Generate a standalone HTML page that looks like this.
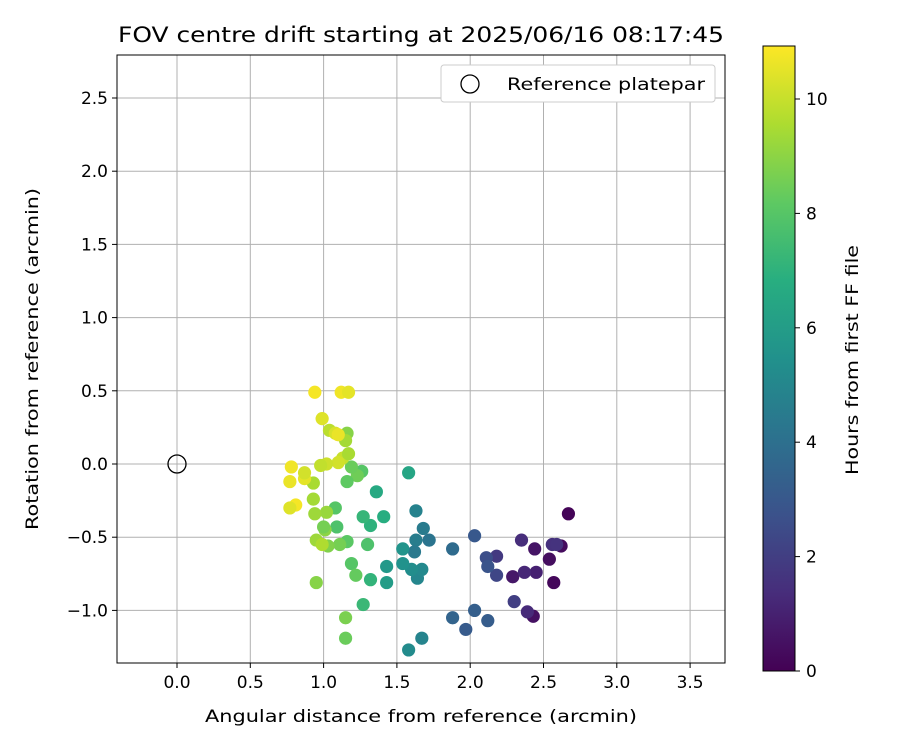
<!DOCTYPE html>
<html><head><meta charset="utf-8"><style>
body{margin:0;background:#fff;}
svg text{font-family:"DejaVu Sans","Liberation Sans",sans-serif;fill:#000;}
</style></head><body>
<svg id="chart" width="900" height="750" viewBox="0 0 900 750" xmlns="http://www.w3.org/2000/svg">
<defs><linearGradient id="vir" x1="0" y1="1" x2="0" y2="0">
<stop offset="0" stop-color="#440154"/><stop offset="0.125" stop-color="#472d7b"/><stop offset="0.25" stop-color="#3b528b"/><stop offset="0.375" stop-color="#2c728e"/><stop offset="0.5" stop-color="#21918c"/><stop offset="0.625" stop-color="#28ae80"/><stop offset="0.75" stop-color="#5ec962"/><stop offset="0.875" stop-color="#addc30"/><stop offset="1" stop-color="#fde725"/></linearGradient></defs>
<text x="421" y="42" font-size="21" text-anchor="middle" textLength="606" lengthAdjust="spacingAndGlyphs">FOV centre drift starting at 2025/06/16 08:17:45</text>
<g id="grid"></g><g id="pts"></g>
<rect x="117" y="55" width="608" height="608" fill="none" stroke="#000" stroke-width="1"/>
<g id="xt"></g><g id="yt"></g>
<text x="421" y="722" font-size="17" text-anchor="middle" textLength="432" lengthAdjust="spacingAndGlyphs">Angular distance from reference (arcmin)</text>
<text transform="translate(38,359) rotate(-90)" font-size="17" text-anchor="middle" textLength="342" lengthAdjust="spacingAndGlyphs">Rotation from reference (arcmin)</text>
<g>
<rect x="441" y="65" width="274" height="37" rx="3" fill="#fff" stroke="#ccc"/>
<circle cx="470" cy="84" r="9" fill="none" stroke="#000" stroke-width="1.3"/>
<text x="507" y="90" font-size="17" textLength="198" lengthAdjust="spacingAndGlyphs">Reference platepar</text></g>
<rect x="763" y="46" width="32" height="625" fill="url(#vir)" stroke="#000"/>
<g id="ct"></g>
<text transform="translate(858,360) rotate(-90)" font-size="17" text-anchor="middle" textLength="230" lengthAdjust="spacingAndGlyphs">Hours from first FF file</text>
</svg>
<script>
const xs=[2.67,2.62,2.57,2.54,2.43,2.44,2.29,2.45,2.37,2.39,2.35,2.56,2.59,2.18,2.30,2.18,2.11,2.12,2.03,1.97,2.12,2.03,1.88,1.88,1.72,1.68,1.63,1.62,1.63,1.67,1.58,1.64,1.67,1.60,1.54,1.54,1.43,1.43,1.58,1.36,1.41,1.32,1.27,1.32,1.27,1.30,1.19,1.22,1.15,1.15,1.26,1.23,1.19,1.16,1.16,1.09,1.08,1.11,1.03,1.01,1.00,1.02,0.95,0.95,0.99,1.16,1.15,1.13,1.17,1.10,1.02,0.98,1.04,1.08,1.10,0.99,0.94,1.12,1.17,0.93,0.93,0.94,0.87,0.87,0.78,0.77,0.81,0.77];
const ys=[-0.34,-0.56,-0.81,-0.65,-1.04,-0.58,-0.77,-0.74,-0.74,-1.01,-0.52,-0.55,-0.55,-0.63,-0.94,-0.76,-0.64,-0.70,-0.49,-1.13,-1.07,-1.00,-1.05,-0.58,-0.52,-0.44,-0.52,-0.60,-0.32,-1.19,-1.27,-0.78,-0.72,-0.72,-0.68,-0.58,-0.70,-0.81,-0.06,-0.19,-0.36,-0.42,-0.36,-0.79,-0.96,-0.55,-0.68,-0.76,-1.19,-1.05,-0.05,-0.08,-0.02,-0.12,-0.53,-0.43,-0.30,-0.55,-0.56,-0.45,-0.43,-0.33,-0.52,-0.81,-0.55,0.21,0.16,0.04,0.07,0.01,0.0,-0.01,0.23,0.21,0.20,0.31,0.49,0.49,0.49,-0.13,-0.24,-0.34,-0.10,-0.06,-0.02,-0.12,-0.28,-0.30];
const hours=[0.1,0.3,0.2,0.4,0.5,0.6,0.7,1.0,1.2,1.3,1.4,1.5,1.6,1.8,2.0,2.3,2.6,2.8,3.0,3.1,3.2,3.3,3.5,3.8,4.2,4.5,4.6,4.4,4.8,4.9,5.2,5.0,5.1,5.3,5.5,5.6,5.8,6.0,6.4,6.6,6.8,7.0,7.2,7.1,7.3,7.8,8.0,8.3,8.4,8.7,8.0,8.5,8.4,8.2,8.1,7.8,8.0,8.6,8.8,9.0,8.6,9.2,9.3,8.9,9.6,8.9,9.4,10.0,9.5,10.2,10.1,9.9,9.8,10.3,10.6,10.4,10.8,10.7,10.5,9.5,9.4,9.3,10.5,10.2,10.7,10.6,10.8,10.4];
const xTicks=["0.0","0.5","1.0","1.5","2.0","2.5","3.0","3.5"];
const yTicks=["-1.0","-0.5","0.0","0.5","1.0","1.5","2.0","2.5"];
const cTicks=["0","2","4","6","8","10"];
const X=v=>177+v*146.6, Y=v=>464-v*146.4, C=v=>671-v*57.2;
const stops=["#440154","#472d7b","#3b528b","#2c728e","#21918c","#28ae80","#5ec962","#addc30","#fde725"];
function hex(h){return [1,3,5].map(i=>parseInt(h.substr(i,2),16));}
function vir(t){t=Math.max(0,Math.min(1,t))*8;const i=Math.min(7,Math.floor(t)),f=t-i,a=hex(stops[i]),b=hex(stops[i+1]);return "rgb("+a.map((v,k)=>Math.round(v+(b[k]-v)*f)).join(",")+")";}
const NS="http://www.w3.org/2000/svg";
function mk(tag,attrs,parent){const e=document.createElementNS(NS,tag);for(const k in attrs)e.setAttribute(k,attrs[k]);document.getElementById(parent).appendChild(e);return e;}
xTicks.forEach(t=>{const x=X(parseFloat(t));
const g=mk("line",{x1:x,x2:x,y1:55,y2:663,stroke:"#b0b0b0","stroke-width":1},"grid");


mk("line",{x1:x,x2:x,y1:663,y2:668,stroke:"#000"},"xt");
const l=mk("text",{x:x,y:688,"font-size":17,"text-anchor":"middle"},"xt");l.textContent=t;

});
yTicks.forEach(t=>{const y=Y(parseFloat(t));
const g=mk("line",{x1:117,x2:725,y1:y,y2:y,stroke:"#b0b0b0","stroke-width":1},"grid");


mk("line",{x1:112,x2:117,y1:y,y2:y,stroke:"#000"},"yt");
const l=mk("text",{x:108,y:y+6,"font-size":17,"text-anchor":"end"},"yt");l.textContent=t.replace("-","−");

});
cTicks.forEach(t=>{const y=C(parseFloat(t));
mk("line",{x1:795,x2:800,y1:y,y2:y,stroke:"#000"},"ct");
const l=mk("text",{x:806,y:y+6,"font-size":17},"ct");l.textContent=t;

});
xs.forEach((v,i)=>{const c=mk("circle",{cx:X(v),cy:Y(ys[i]),r:6.6,fill:vir(hours[i]/10.93)},"pts");

});
const r=mk("circle",{cx:X(0),cy:Y(0),r:9,fill:"none",stroke:"#000","stroke-width":1.3},"pts");


</script>
</body></html>
